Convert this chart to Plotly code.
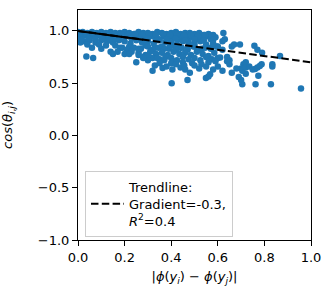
import plotly.graph_objects as go

# Dense upper band (rows)
band_x = [0.00,0.02,0.04,0.06,0.08,0.10,0.12,0.14,0.16,0.18,0.20,0.22,0.24,0.26,0.28,0.30,0.32,0.34,0.36,0.38,0.40,0.42,0.44,0.46,0.48,0.50,0.52,0.54,0.56,0.58,
          0.01,0.03,0.05,0.07,0.09,0.11,0.13,0.15,0.17,0.19,0.21,0.23,0.25,0.27,0.29,0.31,0.33,0.35,0.37,0.39,0.41,0.43,0.45,0.47,0.49,0.51,0.53,0.55,0.57,0.59,
          0.00,0.025,0.05,0.075,0.10,0.125,0.15,0.175,0.20,0.225,0.25,0.275,0.30,0.325,0.35,0.375,0.40,0.425,0.45,0.475,0.50,0.525,0.55,
          0.01,0.04,0.09,0.12,0.16,0.19,0.22,0.26,0.29,0.33,0.36,0.39,0.41,0.44,0.47,0.50,0.53,0.57,
          0.005,0.035,0.065,0.095,0.125,0.155,0.185,0.215,0.245,0.275,0.305,0.335,0.365,0.395,0.425,0.455,0.485,0.515,0.545,0.575,
          0.015,0.045,0.075,0.105,0.135,0.165,0.195,0.23,0.265,0.30,0.34,0.38,0.42,0.46,0.50,0.54,0.58]
band_y = [0.99,0.99,0.98,0.99,0.98,0.99,0.98,0.99,0.98,0.98,0.99,0.98,0.97,0.99,0.98,0.98,0.97,0.99,0.98,0.97,0.98,0.99,0.97,0.98,0.98,0.97,0.98,0.96,0.97,0.96,
          0.95,0.96,0.94,0.95,0.96,0.94,0.95,0.93,0.95,0.94,0.96,0.93,0.95,0.94,0.93,0.95,0.94,0.92,0.95,0.93,0.94,0.92,0.95,0.93,0.94,0.92,0.93,0.95,0.92,0.94,
          0.91,0.90,0.91,0.89,0.91,0.90,0.89,0.91,0.90,0.88,0.91,0.89,0.90,0.88,0.91,0.89,0.90,0.87,0.90,0.89,0.88,0.90,0.87,
          0.89,0.87,0.87,0.86,0.86,0.84,0.85,0.83,0.86,0.84,0.85,0.83,0.86,0.84,0.82,0.85,0.83,0.84,
          0.965,0.97,0.96,0.965,0.97,0.96,0.965,0.96,0.97,0.96,0.965,0.96,0.97,0.96,0.965,0.955,0.96,0.95,0.96,0.955,
          0.92,0.925,0.92,0.93,0.92,0.925,0.92,0.93,0.92,0.925,0.91,0.92,0.925,0.91,0.92,0.91,0.915]

# Blob below the band
blob_x = [0.06,0.10,0.14,0.18,0.21,0.24,0.27,0.30,0.32,0.345,0.37,0.395,0.42,0.445,0.47,0.495,0.52,0.545,0.57,0.595,
          0.15,0.20,0.23,0.26,0.29,0.31,0.335,0.36,0.385,0.41,0.435,0.46,0.485,0.51,0.535,0.56,0.585,
          0.28,0.32,0.35,0.375,0.40,0.425,0.45,0.475,0.50,0.525,0.55,0.575,0.60]
blob_y = [0.84,0.83,0.80,0.84,0.82,0.84,0.83,0.85,0.82,0.84,0.83,0.85,0.82,0.84,0.83,0.85,0.82,0.84,0.83,0.85,
          0.78,0.78,0.80,0.79,0.77,0.80,0.78,0.79,0.77,0.80,0.78,0.79,0.77,0.80,0.78,0.76,0.79,
          0.75,0.74,0.73,0.75,0.74,0.72,0.75,0.73,0.74,0.72,0.75,0.73,0.74]

# Middle scatter
mid_x = [0.17,0.22,0.26,0.30,0.34,0.37,0.41,0.45,0.49,0.53,0.56,0.59,0.61,0.62,0.63,0.624,0.66,0.67,0.62,0.60,0.58,0.65,0.64]
mid_y = [0.80,0.78,0.77,0.76,0.74,0.72,0.71,0.70,0.69,0.68,0.70,0.71,0.745,0.90,0.92,0.98,0.85,0.87,0.82,0.85,0.88,0.72,0.75]

# Lower scatter
low_x = [0.036,0.065,0.25,0.32,0.33,0.363,0.40,0.402,0.405,0.44,0.456,0.47,0.549,0.567,0.64,0.65,0.69,0.70,0.705,0.71,
         0.72,0.72,0.70,0.705,0.72,0.735,0.75,0.76,0.77,0.788,0.757,0.77,0.79,0.774,0.762,0.78,0.834,0.834,0.828,0.867,
         0.957,0.695,0.66,0.68,0.60,0.62,0.55,0.52,0.50,0.46,0.42,0.38,0.35,0.30,0.28,0.48,0.58,0.56]
low_y = [0.755,0.74,0.70,0.62,0.67,0.645,0.69,0.50,0.63,0.65,0.67,0.53,0.55,0.585,0.71,0.68,0.56,0.53,0.49,0.68,
         0.70,0.59,0.64,0.62,0.65,0.66,0.63,0.635,0.65,0.68,0.857,0.82,0.79,0.57,0.49,0.665,0.68,0.66,0.49,0.76,
         0.45,0.87,0.60,0.64,0.66,0.62,0.66,0.64,0.67,0.63,0.68,0.66,0.69,0.72,0.74,0.60,0.63,0.565]

# Trendline parameters
gradient = -0.3
intercept = 1.0
trend_x = [0.0, 1.0]
trend_solid_x = [0.0, 0.28]   # part of the fitted line that renders solid (overlapping dashes)

xs = band_x + blob_x + mid_x + low_x
ys = band_y + blob_y + mid_y + low_y

fig = go.Figure()
fig.add_trace(go.Scatter(x=xs, y=ys, mode="markers",
                         marker=dict(color="#1f77b4", size=6.5, line=dict(width=0)),
                         showlegend=False))
fig.add_trace(go.Scatter(x=trend_solid_x, y=[intercept + gradient * v for v in trend_solid_x],
                         mode="lines", line=dict(color="black", width=2),
                         showlegend=False, hoverinfo="skip"))
fig.add_trace(go.Scatter(x=trend_x, y=[intercept + gradient * v for v in trend_x], mode="lines",
                         line=dict(color="black", width=2, dash="7.5px,3.3px"),
                         name="Trendline:<br>Gradient=-0.3,<br><i>R</i><sup>2</sup>=0.4"))

axis_common = dict(showline=True, linecolor="black", linewidth=1, mirror=True,
                   ticks="outside", ticklen=5, tickcolor="black", showgrid=False,
                   zeroline=False, tickfont=dict(size=13, color="black"))
fig.update_xaxes(range=[0, 1], tickvals=[0, 0.2, 0.4, 0.6, 0.8, 1.0],
                 ticktext=["0.0", "0.2", "0.4", "0.6", "0.8", "1.0"],
                 title=dict(text="|<i>ϕ</i>(<i>y</i><sub><i>i</i></sub>) − <i>ϕ</i>(<i>y</i><sub><i>j</i></sub>)|",
                            font=dict(size=13, color="black"), standoff=8),
                 **axis_common)
fig.update_yaxes(range=[-1, 1.2], tickvals=[-1, -0.5, 0, 0.5, 1.0],
                 ticktext=["−1.0", "−0.5", "0.0", "0.5", "1.0"],
                 title=dict(text="<i>cos</i>(<i>θ</i><sub><i>i</i>,<i>j</i></sub>)",
                            font=dict(size=13, color="black"), standoff=24),
                 **axis_common)
fig.update_layout(width=331, height=299, margin=dict(l=78, r=20, t=10, b=59, autoexpand=False),
                  plot_bgcolor="white", paper_bgcolor="white",
                  font=dict(family="DejaVu Sans", size=13, color="black"),
                  legend=dict(x=0.03, y=0.30, xanchor="left", yanchor="top", itemwidth=33,
                              bgcolor="rgba(255,255,255,0.8)", bordercolor="#cccccc", borderwidth=1,
                              font=dict(size=13, color="black")))
fig.write_html("out.html", config={"displayModeBar": False},
               post_script="document.body.style.margin='0';")
